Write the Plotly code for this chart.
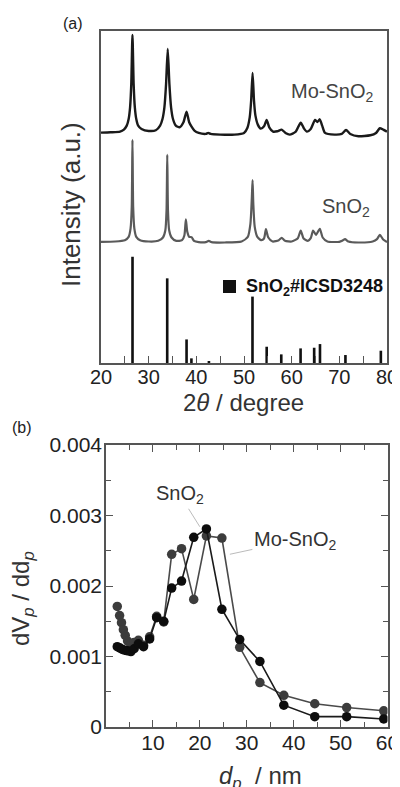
import plotly.graph_objects as go

W, H = 400, 787
OFF = 8  # page body margin of the rendered html

# ---------- panel (a): XRD ----------
mo_x = [20, 22, 24, 24.8, 25.4, 25.8, 26.1, 26.35, 26.6, 26.85, 27.1, 27.4, 27.8, 28.5, 30.0, 31.5, 32.4, 32.9, 33.3,
        33.65, 34.0, 34.35, 34.7, 35.1, 35.7, 36.5, 37.3, 37.95, 38.5, 39.0, 39.6, 40.5, 42.0, 42.5, 43.0, 45.0, 48.0,
        50.0, 50.7, 51.2, 51.5, 51.8, 52.1, 52.4, 52.9, 53.5, 54.2, 54.75, 55.3, 56.1, 57.0, 57.9, 58.7, 59.6, 60.8,
        61.9, 62.6, 63.2, 64.0, 64.9, 65.4, 65.9, 66.4, 67.0, 69.0, 70.5, 71.4, 72.3, 74.0, 76.5, 77.7, 78.5, 79.2, 80.0]
mo_y = [69.4, 69.5, 69.7, 70.3, 71.5, 73.5, 77.0, 84.0, 98.8, 84.0, 77.0, 73.5, 71.5, 70.5, 69.9, 70.1, 71.5, 73.5,
        77.0, 84.0, 94.6, 84.0, 77.0, 73.5, 71.5, 71.0, 72.5, 75.7, 72.5, 71.2, 70.0, 69.3, 69.0, 69.3, 69.0, 68.8, 68.8,
        69.3, 70.8, 74.0, 79.0, 87.4, 79.0, 74.5, 71.8, 70.6, 71.3, 73.2, 71.0, 69.7, 69.8, 70.3, 69.3, 68.8, 69.6,
        72.4, 70.6, 69.7, 70.5, 73.2, 72.6, 73.4, 71.5, 69.3, 68.8, 69.0, 70.2, 69.0, 68.3, 68.6, 69.3, 70.7, 70.3, 69.7]

sn_x = [20, 23, 25.0, 25.8, 26.2, 26.45, 26.6, 26.75, 27.0, 27.4, 28.2, 30.0, 32.0, 33.0, 33.5, 33.75, 33.9, 34.05, 34.3,
        34.8, 35.8, 37.0, 37.5, 37.8, 38.1, 38.5, 39.0, 39.5, 40.5, 42.0, 42.6, 43.2, 46.0, 49.5, 50.8, 51.35, 51.65, 51.8,
        51.95, 52.25, 52.8, 53.6, 54.2, 54.6, 55.1, 56.0, 57.3, 57.9, 58.6, 60.0, 61.3, 61.9, 62.5, 63.4, 64.0, 64.5,
        65.1, 65.9, 66.5, 67.5, 70.0, 70.6, 71.2, 71.9, 74.0, 77.0, 77.9, 78.5, 79.2, 80.0]
sn_y = [36.5, 36.6, 37.0, 38.0, 40.5, 47.0, 67.2, 47.0, 40.5, 38.0, 37.0, 36.6, 36.8, 37.8, 40.0, 46.0, 62.7, 46.0, 40.0,
        37.8, 36.8, 37.0, 38.5, 43.3, 39.5, 38.0, 37.9, 36.8, 36.4, 36.4, 36.8, 36.4, 36.3, 36.6, 38.0, 42.0, 50.0, 55.1,
        48.0, 41.0, 38.0, 37.0, 37.5, 40.3, 37.8, 36.6, 37.0, 37.7, 36.8, 36.6, 37.6, 39.9, 37.5, 36.8, 37.6, 39.9,
        38.6, 40.4, 37.8, 36.6, 36.5, 36.8, 37.3, 36.6, 36.3, 36.6, 37.3, 38.6, 37.2, 36.4]

ref_x = [26.61, 33.89, 37.95, 38.97, 42.64, 51.78, 54.76, 57.82, 61.87, 64.72, 65.94, 71.28, 78.71]
ref_y = [32.0, 25.5, 7.1, 1.4, 0.4, 20.0, 4.9, 2.6, 4.4, 4.6, 5.7, 2.4, 3.7]

# ---------- panel (b): pore size distribution ----------
sn_dp = [2.4, 3.0, 3.5, 4.0, 4.6, 5.3, 6.0, 6.9, 8.0, 9.3, 10.8, 12.3, 14.0, 16.1, 18.7, 21.4, 24.7, 28.5, 32.8, 37.9,
         44.5, 51.3, 59.2]
sn_dv = [0.00114, 0.00112, 0.00110, 0.00109, 0.00108, 0.00107, 0.00111, 0.00118, 0.00114, 0.00125, 0.00155, 0.00150,
         0.00197, 0.00207, 0.00269, 0.00281, 0.00167, 0.00124, 0.00093, 0.00031, 0.000147, 0.000147, 0.000114]
mo_dp = [2.4, 2.9, 3.3, 3.7, 4.1, 4.6, 5.3, 6.0, 6.9, 8.0, 9.3, 10.8, 12.3, 14.0, 16.1, 18.7, 21.4, 24.7, 28.5, 32.8,
         37.9, 44.5, 51.3, 59.2]
mo_dv = [0.00171, 0.00158, 0.00148, 0.00138, 0.00130, 0.00122, 0.00117, 0.00120, 0.00123, 0.00116, 0.00128, 0.00157,
         0.00149, 0.00245, 0.00253, 0.00181, 0.00271, 0.00268, 0.00113, 0.00063, 0.00045, 0.00033, 0.000276, 0.00023]

a_xticks = [20, 30, 40, 50, 60, 70, 80]
b_xticks = [10, 20, 30, 40, 50, 60]
b_yticks = [0, 0.001, 0.002, 0.003, 0.004]
b_yticktext = ["0", "0.001", "0.002", "0.003", "0.004"]

FONT = "Liberation Sans, Arial, sans-serif"
AX = "#555555"
TXT = "#222222"


def px(x):
    return (x - OFF) / W


def py(y):
    return 1 - (y - OFF) / H


fig = go.Figure()

fig.add_trace(go.Bar(x=ref_x, y=ref_y, width=0.55, marker=dict(color="#111111", line=dict(width=0)),
                     xaxis="x", yaxis="y", showlegend=False))
fig.add_trace(go.Scatter(x=sn_x, y=sn_y, mode="lines", line=dict(color="#5a5a5a", width=2.2, shape="spline",
                                                                   smoothing=0.6),
                         xaxis="x", yaxis="y", showlegend=False))
fig.add_trace(go.Scatter(x=mo_x, y=mo_y, mode="lines", line=dict(color="#1a1a1a", width=2.4, shape="spline",
                                                                   smoothing=0.6),
                         xaxis="x", yaxis="y", showlegend=False))

fig.add_trace(go.Scatter(x=mo_dp, y=mo_dv, mode="lines+markers",
                         line=dict(color="#4a4a4a", width=1.6),
                         marker=dict(color="#3c3c3c", size=9.5, line=dict(width=0)),
                         xaxis="x2", yaxis="y2", showlegend=False))
fig.add_trace(go.Scatter(x=sn_dp, y=sn_dv, mode="lines+markers",
                         line=dict(color="#1a1a1a", width=1.6),
                         marker=dict(color="#0d0d0d", size=9.5, line=dict(width=0)),
                         xaxis="x2", yaxis="y2", showlegend=False))

tickfont_a = dict(family=FONT, size=20, color=TXT)
tickfont_b = dict(family=FONT, size=21, color=TXT)

fig.update_layout(
    template="none",
    width=W, height=H,
    margin=dict(l=0, r=0, t=0, b=0, pad=0, autoexpand=False),
    paper_bgcolor="white", plot_bgcolor="white",
    xaxis=dict(domain=[px(101), px(387)], range=[20, 80], anchor="y", automargin=False,
               tickvals=a_xticks, ticks="inside", ticklen=7, tickwidth=1.3, tickcolor=AX,
               ticklabelstandoff=-5,
               minor=dict(dtick=5, tick0=20, ticks="inside", ticklen=7, tickwidth=1.3, tickcolor=AX),
               showline=True, linecolor=AX, linewidth=1.6, mirror=True,
               showgrid=False, zeroline=False, tickfont=tickfont_a),
    yaxis=dict(domain=[py(363), py(31)], range=[0, 100], anchor="x", automargin=False,
               showticklabels=False, ticks="",
               showline=True, linecolor=AX, linewidth=1.6, mirror=True,
               showgrid=False, zeroline=False),
    xaxis2=dict(domain=[px(106), px(387.5)], range=[0, 60], anchor="y2", automargin=False,
                tickvals=b_xticks, ticks="inside", ticklen=7, tickwidth=1.3, tickcolor=AX,
                ticklabelstandoff=-4,
                minor=dict(dtick=5, tick0=0, ticks="inside", ticklen=5, tickwidth=1.3, tickcolor=AX),
                showline=True, linecolor=AX, linewidth=1.6, mirror="allticks",
                showgrid=False, zeroline=False, tickfont=tickfont_b),
    yaxis2=dict(domain=[py(727), py(445)], range=[0, 0.004], anchor="x2", automargin=False,
                tickvals=b_yticks, ticktext=b_yticktext, ticks="inside", ticklen=7, tickwidth=1.3, tickcolor=AX,
                ticklabelstandoff=-2,
                minor=dict(dtick=0.0005, tick0=0, ticks="inside", ticklen=5, tickwidth=1.3, tickcolor=AX),
                showline=True, linecolor=AX, linewidth=1.6, mirror="allticks",
                showgrid=False, zeroline=False, tickfont=tickfont_b),
)


def ann(text, x, y, size, color=TXT, angle=0, xanchor="center", **kw):
    fig.add_annotation(text=text, x=px(x), y=py(y), xref="paper", yref="paper", showarrow=False,
                       font=dict(family=FONT, size=size, color=color), textangle=angle,
                       xanchor=xanchor, yanchor="middle", **kw)


ann("(a)", 73, 24, 16)
ann("(b)", 22, 427, 16)
ann("Intensity (a.u.)", 71, 205, 26, color="#333333", angle=-90)
ann("2<i>θ</i> / degree", 243, 402, 24, color="#333333")
ann("Mo-SnO<sub>2</sub>", 332, 92, 20, color="#444444")
ann("SnO<sub>2</sub>", 346, 208, 20, color="#444444")
ann("<b>SnO<sub>2</sub>#ICSD3248</b>", 385, 287, 18, color="#111111", xanchor="right")
ann("dV<sub><i>p</i></sub> / dd<sub><i>p</i></sub>", 22, 599, 24, color="#333333", angle=-90)
ann("<i>d<sub>p</sub></i>  / nm", 261, 777, 24, color="#333333")

# legend square
fig.add_shape(type="rect", xref="paper", yref="paper", x0=px(223), x1=px(236), y0=py(293), y1=py(280),
              fillcolor="#111111", line=dict(width=0))

# leader-line labels in panel (b)
fig.add_annotation(text="SnO<sub>2</sub>", x=20.0, y=0.00284, xref="x2", yref="y2", showarrow=True,
                   arrowhead=0, arrowwidth=1, arrowcolor="#bbbbbb", ax=-20, ay=-32,
                   font=dict(family=FONT, size=20, color="#333333"))
fig.add_annotation(text="Mo-SnO<sub>2</sub>", x=26.4, y=0.00245, xref="x2", yref="y2", showarrow=True,
                   arrowhead=0, arrowwidth=1, arrowcolor="#bbbbbb", ax=65, ay=-14,
                   font=dict(family=FONT, size=20, color="#333333"))

fig.write_html("out.html")
